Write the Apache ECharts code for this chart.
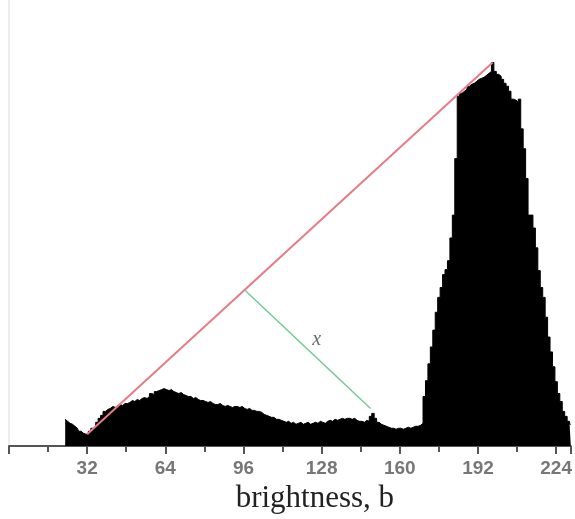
<!DOCTYPE html>
<html>
<head>
<meta charset="utf-8">
<script src="https://cdn.jsdelivr.net/npm/echarts@6/dist/echarts.min.js"></script>
<style>html,body{margin:0;padding:0;background:#fff}#c{width:575px;height:519px}</style>
</head>
<body>
<div id="c"></div>
<script>
// histogram: brightness 23..230, counts
const bStart = 23;
const counts = [
  27,25,23,22,20,18,15,13,12,12, 15,18,20,24,28,31,35,37,38,40,
  39,41,42,41,43,43,44,46,45,47, 46,48,49,48,50,53,52,55,56,57,
  58,57,56,57,55,54,53,54,52,51, 50,50,48,49,47,46,46,45,44,45,
  43,42,42,43,41,40,41,40,39,40, 40,39,40,38,37,38,36,36,35,35,
  34,32,31,30,29,29,27,27,26,25, 24,25,23,24,22,23,24,22,23,24,
  22,23,24,23,25,24,23,25,26,25, 27,26,27,28,27,28,28,27,28,26,
  25,25,24,26,25,30,33,28,24,22, 21,20,19,18,18,17,18,18,17,18,
  19,18,19,20,20,21,23,50,66,83, 100,117,135,150,160,173,178,187,210,233,
  290,353,356,358,360,363,365,366,368,370, 371,372,374,376,378,387,378,375,373,370,
  366,363,358,350,349,347,350,320,300,270, 233,233,220,200,177,160,150,130,110,95,
  80,65,53,45,35,30,25,22
];
const xTicks = [32, 64, 96, 128, 160, 192, 224];
const redLine = [[32, 12], [198, 387]];
const greenLine = [[96.7, 157], [148, 38]];
const xMark = [[126, 107]];

const hist = counts.map((v, i) => [bStart + i, v]);

const chart = echarts.init(document.getElementById('c'));
chart.setOption({
  animation: false,
  grid: {left: 9, right: 0, top: 0, bottom: 69},
  xAxis: {
    type: 'value', min: 0, max: 230, interval: 32,
    axisLine: {lineStyle: {color: '#555', width: 2}},
    axisTick: {length: 8, lineStyle: {color: '#555', width: 2}},
    minorTick: {show: true, splitNumber: 2, length: 6, lineStyle: {color: '#555', width: 2}},
    splitLine: {show: false},
    axisLabel: {
      margin: 13, color: '#777', fontSize: 19, fontWeight: 'bold', fontFamily: 'Liberation Sans',
      formatter: v => xTicks.includes(v) ? String(v) : ''
    },
    name: 'brightness, b', nameLocation: 'middle', nameGap: 34,
    nameTextStyle: {fontFamily: 'Liberation Serif', fontSize: 31, color: '#222', padding: [0, 0, 0, 50]}
  },
  yAxis: {
    type: 'value', min: 0, max: 450,
    axisLine: {show: true, lineStyle: {color: '#eee', width: 2}},
    axisTick: {show: false}, axisLabel: {show: false}, splitLine: {show: false}
  },
  series: [
    {type: 'line', step: 'middle', data: hist, symbol: 'none',
     lineStyle: {color: '#000', width: 1}, areaStyle: {color: '#000', opacity: 1}},
    {type: 'line', data: redLine, symbol: 'none', lineStyle: {color: '#e77b86', width: 2}},
    {type: 'line', data: greenLine, symbol: 'none', lineStyle: {color: '#72c996', width: 1.5}},
    {type: 'scatter', data: xMark, symbolSize: 0,
     label: {show: true, position: 'inside', formatter: 'x', fontFamily: 'Liberation Serif',
             fontStyle: 'italic', fontSize: 20, color: '#444'}}
  ]
});
</script>
</body>
</html>
